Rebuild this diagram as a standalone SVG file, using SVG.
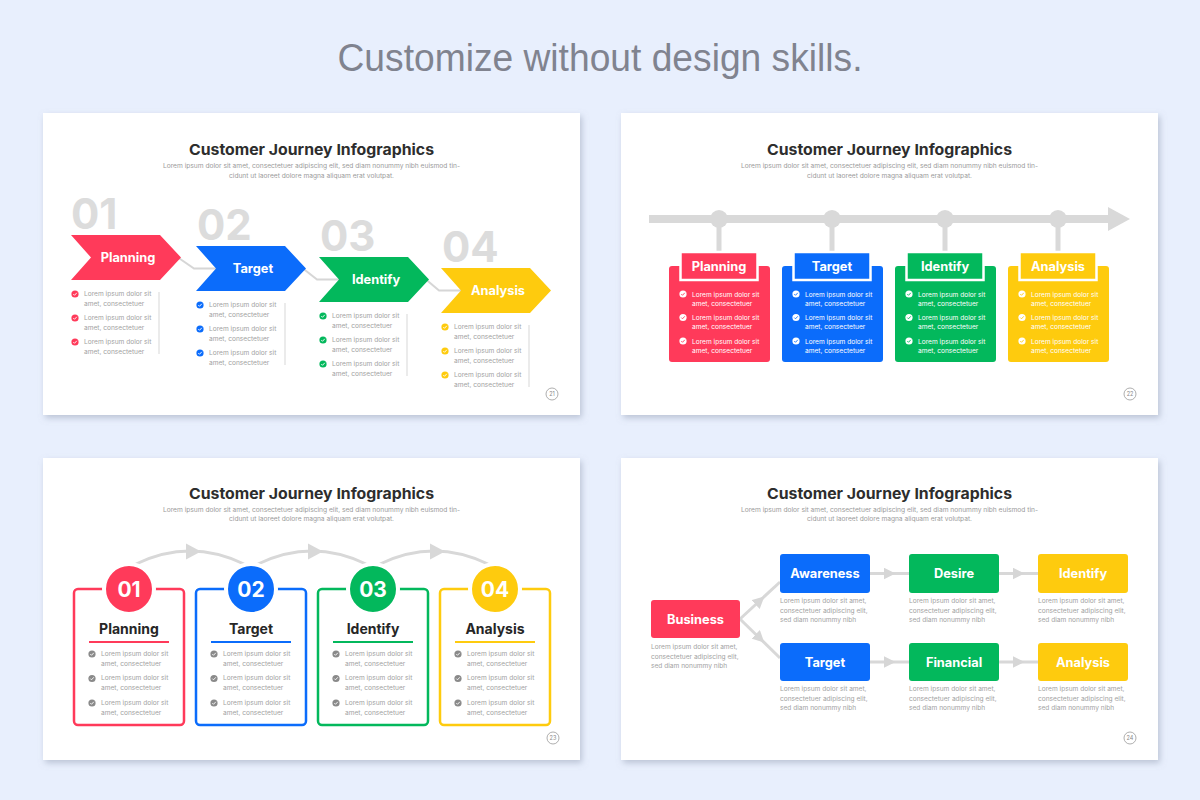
<svg xmlns="http://www.w3.org/2000/svg" xmlns:xlink="http://www.w3.org/1999/xlink" width="1200" height="800" viewBox="0 0 1200 800">
<defs>
<style>
text{font-family:Inter,"Open Sans","DejaVu Sans",sans-serif}
.main{font-family:"Liberation Sans",Arial,sans-serif;font-size:38px;fill:#80838f}
.t1{font-size:15px;font-weight:700;fill:#2d2d2d;text-anchor:middle}
.sub{font-size:6.3px;fill:#9a9a9a;text-anchor:middle}
.li{font-size:6.6px;fill:#a2a2a2}
.liw{font-size:6.6px;fill:#ffffff}
.big{font-size:42px;font-weight:700;fill:#dcdcdc}
.lab{font-size:12.8px;font-weight:700;fill:#ffffff;text-anchor:middle}
.dl{font-size:14px;font-weight:700;fill:#262626;text-anchor:middle}
.cn{font-size:21px;font-weight:700;fill:#ffffff;text-anchor:middle}
.pg{font-size:5.5px;fill:#888;text-anchor:middle}
.pgc{fill:none;stroke:#999;stroke-width:0.8}
.slide{fill:#ffffff;filter:url(#sh)}
.con{fill:none;stroke:#d6d6d6;stroke-width:2}
.con3{fill:none;stroke:#d8d8d8;stroke-width:3}
.vl{stroke:#dedede;stroke-width:1.2}
</style>
<filter id="sh" x="-5%" y="-5%" width="110%" height="115%">
<feDropShadow dx="2" dy="3" stdDeviation="3" flood-color="#8f98ad" flood-opacity="0.5"/>
</filter>
<g id="chk"><circle r="3.6"/><path d="M-1.7,0.1 L-0.5,1.3 L1.8,-1.2" fill="none" stroke="#fff" stroke-width="0.9"/></g>
<g id="chkw"><circle r="3.6" fill="#fff"/><path d="M-1.7,0.1 L-0.5,1.3 L1.8,-1.2" fill="none" stroke="currentColor" stroke-width="0.9"/></g>
<marker id="ah" viewBox="0 0 10 10" refX="5" refY="5" markerWidth="12" markerHeight="12" markerUnits="userSpaceOnUse" orient="auto"><path d="M0,0 L10,5 L0,10 z" fill="#d6d6d6"/></marker>
</defs>

<rect width="1200" height="800" fill="#e8effd"/>
<text class="main" x="600" y="71" text-anchor="middle" textLength="525" lengthAdjust="spacingAndGlyphs">Customize without design skills.</text>

<!-- Slide 1 -->
<g id="slide1">
<rect class="slide" x="43" y="113" width="537" height="302"/>
<text class="t1" x="311.5" y="155" textLength="245" lengthAdjust="spacingAndGlyphs">Customer Journey Infographics</text>
<text class="sub" x="311.5" y="168" textLength="297" lengthAdjust="spacingAndGlyphs">Lorem ipsum dolor sit amet, consectetuer adipiscing elit, sed diam nonummy nibh euismod tin-</text>
<text class="sub" x="311.5" y="177.5" textLength="165" lengthAdjust="spacingAndGlyphs">cidunt ut laoreet dolore magna aliquam erat volutpat.</text>
<g id="s1-connectors">
<polyline class="con" points="178,257.5 194,268.5 218,268.5"/>
<polyline class="con" points="303,268.5 317,279.5 341,279.5"/>
<polyline class="con" points="426,279.5 439,290.5 463,290.5"/>
</g>
<g id="s1-planning">
<text class="big" x="71" y="229">01</text>
<path d="M71,235 h89 l21,22.5 l-21,22.5 h-89 l20,-22.5 z" fill="#ff3a5a"/>
<text class="lab" x="128" y="262">Planning</text>
<use href="#chk" x="75" y="294" fill="#ff3a5a"/><text class="li" x="84" y="296"><tspan>Lorem ipsum dolor sit</tspan><tspan x="84" dy="10">amet, consectetuer</tspan></text>
<use href="#chk" x="75" y="318" fill="#ff3a5a"/><text class="li" x="84" y="320"><tspan>Lorem ipsum dolor sit</tspan><tspan x="84" dy="10">amet, consectetuer</tspan></text>
<use href="#chk" x="75" y="342" fill="#ff3a5a"/><text class="li" x="84" y="344"><tspan>Lorem ipsum dolor sit</tspan><tspan x="84" dy="10">amet, consectetuer</tspan></text>
<line class="vl" x1="159" y1="292" x2="159" y2="354"/>
</g>
<g id="s1-target">
<text class="big" x="197" y="240">02</text>
<path d="M196,246 h89 l21,22.5 l-21,22.5 h-89 l20,-22.5 z" fill="#0b6cfb"/>
<text class="lab" x="253" y="273">Target</text>
<use href="#chk" x="200" y="305" fill="#0b6cfb"/><text class="li" x="209" y="307"><tspan>Lorem ipsum dolor sit</tspan><tspan x="209" dy="10">amet, consectetuer</tspan></text>
<use href="#chk" x="200" y="329" fill="#0b6cfb"/><text class="li" x="209" y="331"><tspan>Lorem ipsum dolor sit</tspan><tspan x="209" dy="10">amet, consectetuer</tspan></text>
<use href="#chk" x="200" y="353" fill="#0b6cfb"/><text class="li" x="209" y="355"><tspan>Lorem ipsum dolor sit</tspan><tspan x="209" dy="10">amet, consectetuer</tspan></text>
<line class="vl" x1="285" y1="303" x2="285" y2="365"/>
</g>
<g id="s1-identify">
<text class="big" x="320" y="251">03</text>
<path d="M319,257 h89 l21,22.5 l-21,22.5 h-89 l20,-22.5 z" fill="#03b85c"/>
<text class="lab" x="376" y="284">Identify</text>
<use href="#chk" x="323" y="316" fill="#03b85c"/><text class="li" x="332" y="318"><tspan>Lorem ipsum dolor sit</tspan><tspan x="332" dy="10">amet, consectetuer</tspan></text>
<use href="#chk" x="323" y="340" fill="#03b85c"/><text class="li" x="332" y="342"><tspan>Lorem ipsum dolor sit</tspan><tspan x="332" dy="10">amet, consectetuer</tspan></text>
<use href="#chk" x="323" y="364" fill="#03b85c"/><text class="li" x="332" y="366"><tspan>Lorem ipsum dolor sit</tspan><tspan x="332" dy="10">amet, consectetuer</tspan></text>
<line class="vl" x1="407" y1="314" x2="407" y2="376"/>
</g>
<g id="s1-analysis">
<text class="big" x="442" y="262">04</text>
<path d="M441,268 h89 l21,22.5 l-21,22.5 h-89 l20,-22.5 z" fill="#fecb0e"/>
<text class="lab" x="498" y="295">Analysis</text>
<use href="#chk" x="445" y="327" fill="#fecb0e"/><text class="li" x="454" y="329"><tspan>Lorem ipsum dolor sit</tspan><tspan x="454" dy="10">amet, consectetuer</tspan></text>
<use href="#chk" x="445" y="351" fill="#fecb0e"/><text class="li" x="454" y="353"><tspan>Lorem ipsum dolor sit</tspan><tspan x="454" dy="10">amet, consectetuer</tspan></text>
<use href="#chk" x="445" y="375" fill="#fecb0e"/><text class="li" x="454" y="377"><tspan>Lorem ipsum dolor sit</tspan><tspan x="454" dy="10">amet, consectetuer</tspan></text>
<line class="vl" x1="529" y1="325" x2="529" y2="387"/>
</g>
<circle class="pgc" cx="552" cy="394" r="6"/><text class="pg" x="552" y="396">21</text>
</g>

<!-- Slide 2 -->
<g id="slide2">
<rect class="slide" x="621" y="113" width="537" height="302"/>
<text class="t1" x="889.5" y="155" textLength="245" lengthAdjust="spacingAndGlyphs">Customer Journey Infographics</text>
<text class="sub" x="889.5" y="168" textLength="297" lengthAdjust="spacingAndGlyphs">Lorem ipsum dolor sit amet, consectetuer adipiscing elit, sed diam nonummy nibh euismod tin-</text>
<text class="sub" x="889.5" y="177.5" textLength="165" lengthAdjust="spacingAndGlyphs">cidunt ut laoreet dolore magna aliquam erat volutpat.</text>
<g id="s2-connectors" fill="#d9d9d9">
<rect x="649" y="215" width="462" height="8"/>
<polygon points="1108,207 1130,219 1108,231"/>
<circle cx="719" cy="219" r="9"/><circle cx="832" cy="219" r="9"/><circle cx="945" cy="219" r="9"/><circle cx="1058" cy="219" r="9"/>
<rect x="716.5" y="219" width="5" height="36"/><rect x="829.5" y="219" width="5" height="36"/><rect x="942.5" y="219" width="5" height="36"/><rect x="1055.5" y="219" width="5" height="36"/>
</g>
<g id="s2-planning">
<rect x="669" y="266" width="101" height="96" rx="3" fill="#ff3a5a"/>
<rect x="680.5" y="252" width="77" height="28" fill="#ff3a5a" stroke="#fff" stroke-width="2.5"/>
<text class="lab" x="719" y="271">Planning</text>
<use href="#chkw" x="683" y="294" color="#ff3a5a"/><text class="liw" x="692" y="296.5"><tspan>Lorem ipsum dolor sit</tspan><tspan x="692" dy="9.3">amet, consectetuer</tspan></text>
<use href="#chkw" x="683" y="317.5" color="#ff3a5a"/><text class="liw" x="692" y="320"><tspan>Lorem ipsum dolor sit</tspan><tspan x="692" dy="9.3">amet, consectetuer</tspan></text>
<use href="#chkw" x="683" y="341" color="#ff3a5a"/><text class="liw" x="692" y="343.5"><tspan>Lorem ipsum dolor sit</tspan><tspan x="692" dy="9.3">amet, consectetuer</tspan></text>
</g>
<g id="s2-target">
<rect x="782" y="266" width="101" height="96" rx="3" fill="#0b6cfb"/>
<rect x="793.5" y="252" width="77" height="28" fill="#0b6cfb" stroke="#fff" stroke-width="2.5"/>
<text class="lab" x="832" y="271">Target</text>
<use href="#chkw" x="796" y="294" color="#0b6cfb"/><text class="liw" x="805" y="296.5"><tspan>Lorem ipsum dolor sit</tspan><tspan x="805" dy="9.3">amet, consectetuer</tspan></text>
<use href="#chkw" x="796" y="317.5" color="#0b6cfb"/><text class="liw" x="805" y="320"><tspan>Lorem ipsum dolor sit</tspan><tspan x="805" dy="9.3">amet, consectetuer</tspan></text>
<use href="#chkw" x="796" y="341" color="#0b6cfb"/><text class="liw" x="805" y="343.5"><tspan>Lorem ipsum dolor sit</tspan><tspan x="805" dy="9.3">amet, consectetuer</tspan></text>
</g>
<g id="s2-identify">
<rect x="895" y="266" width="101" height="96" rx="3" fill="#03b85c"/>
<rect x="906.5" y="252" width="77" height="28" fill="#03b85c" stroke="#fff" stroke-width="2.5"/>
<text class="lab" x="945" y="271">Identify</text>
<use href="#chkw" x="909" y="294" color="#03b85c"/><text class="liw" x="918" y="296.5"><tspan>Lorem ipsum dolor sit</tspan><tspan x="918" dy="9.3">amet, consectetuer</tspan></text>
<use href="#chkw" x="909" y="317.5" color="#03b85c"/><text class="liw" x="918" y="320"><tspan>Lorem ipsum dolor sit</tspan><tspan x="918" dy="9.3">amet, consectetuer</tspan></text>
<use href="#chkw" x="909" y="341" color="#03b85c"/><text class="liw" x="918" y="343.5"><tspan>Lorem ipsum dolor sit</tspan><tspan x="918" dy="9.3">amet, consectetuer</tspan></text>
</g>
<g id="s2-analysis">
<rect x="1008" y="266" width="101" height="96" rx="3" fill="#fecb0e"/>
<rect x="1019.5" y="252" width="77" height="28" fill="#fecb0e" stroke="#fff" stroke-width="2.5"/>
<text class="lab" x="1058" y="271">Analysis</text>
<use href="#chkw" x="1022" y="294" color="#fecb0e"/><text class="liw" x="1031" y="296.5"><tspan>Lorem ipsum dolor sit</tspan><tspan x="1031" dy="9.3">amet, consectetuer</tspan></text>
<use href="#chkw" x="1022" y="317.5" color="#fecb0e"/><text class="liw" x="1031" y="320"><tspan>Lorem ipsum dolor sit</tspan><tspan x="1031" dy="9.3">amet, consectetuer</tspan></text>
<use href="#chkw" x="1022" y="341" color="#fecb0e"/><text class="liw" x="1031" y="343.5"><tspan>Lorem ipsum dolor sit</tspan><tspan x="1031" dy="9.3">amet, consectetuer</tspan></text>
</g>
<circle class="pgc" cx="1130" cy="394" r="6"/><text class="pg" x="1130" y="396">22</text>
</g>

<!-- Slide 3 -->
<g id="slide3">
<rect class="slide" x="43" y="458" width="537" height="302"/>
<text class="t1" x="311.5" y="499" textLength="245" lengthAdjust="spacingAndGlyphs">Customer Journey Infographics</text>
<text class="sub" x="311.5" y="511.5" textLength="297" lengthAdjust="spacingAndGlyphs">Lorem ipsum dolor sit amet, consectetuer adipiscing elit, sed diam nonummy nibh euismod tin-</text>
<text class="sub" x="311.5" y="521" textLength="165" lengthAdjust="spacingAndGlyphs">cidunt ut laoreet dolore magna aliquam erat volutpat.</text>
<g id="s3-connectors">
<path class="con3" d="M136,564 Q190,538 244,564"/><polygon points="186,543.5 201,551.5 186,559.5" fill="#d8d8d8"/>
<path class="con3" d="M258,564 Q312,538 366,564"/><polygon points="308,543.5 323,551.5 308,559.5" fill="#d8d8d8"/>
<path class="con3" d="M380,564 Q434,538 488,564"/><polygon points="430,543.5 445,551.5 430,559.5" fill="#d8d8d8"/>
</g>
<g id="s3-planning">
<rect x="74" y="589" width="110" height="136" rx="4" fill="#fff" stroke="#ff3a5a" stroke-width="2.5"/>
<circle cx="129" cy="589" r="25" fill="#ff3a5a" stroke="#fff" stroke-width="4"/>
<text class="cn" x="129" y="597">01</text>
<text class="dl" x="129" y="634">Planning</text>
<line x1="89" y1="642" x2="169" y2="642" stroke="#ff3a5a" stroke-width="2"/>
<use href="#chk" x="92" y="654" fill="#8a8a8a"/><text class="li" x="101" y="655.5"><tspan>Lorem ipsum dolor sit</tspan><tspan x="101" dy="10">amet, consectetuer</tspan></text>
<use href="#chk" x="92" y="678.5" fill="#8a8a8a"/><text class="li" x="101" y="680"><tspan>Lorem ipsum dolor sit</tspan><tspan x="101" dy="10">amet, consectetuer</tspan></text>
<use href="#chk" x="92" y="703" fill="#8a8a8a"/><text class="li" x="101" y="704.5"><tspan>Lorem ipsum dolor sit</tspan><tspan x="101" dy="10">amet, consectetuer</tspan></text>
</g>
<g id="s3-target">
<rect x="196" y="589" width="110" height="136" rx="4" fill="#fff" stroke="#0b6cfb" stroke-width="2.5"/>
<circle cx="251" cy="589" r="25" fill="#0b6cfb" stroke="#fff" stroke-width="4"/>
<text class="cn" x="251" y="597">02</text>
<text class="dl" x="251" y="634">Target</text>
<line x1="211" y1="642" x2="291" y2="642" stroke="#0b6cfb" stroke-width="2"/>
<use href="#chk" x="214" y="654" fill="#8a8a8a"/><text class="li" x="223" y="655.5"><tspan>Lorem ipsum dolor sit</tspan><tspan x="223" dy="10">amet, consectetuer</tspan></text>
<use href="#chk" x="214" y="678.5" fill="#8a8a8a"/><text class="li" x="223" y="680"><tspan>Lorem ipsum dolor sit</tspan><tspan x="223" dy="10">amet, consectetuer</tspan></text>
<use href="#chk" x="214" y="703" fill="#8a8a8a"/><text class="li" x="223" y="704.5"><tspan>Lorem ipsum dolor sit</tspan><tspan x="223" dy="10">amet, consectetuer</tspan></text>
</g>
<g id="s3-identify">
<rect x="318" y="589" width="110" height="136" rx="4" fill="#fff" stroke="#03b85c" stroke-width="2.5"/>
<circle cx="373" cy="589" r="25" fill="#03b85c" stroke="#fff" stroke-width="4"/>
<text class="cn" x="373" y="597">03</text>
<text class="dl" x="373" y="634">Identify</text>
<line x1="333" y1="642" x2="413" y2="642" stroke="#03b85c" stroke-width="2"/>
<use href="#chk" x="336" y="654" fill="#8a8a8a"/><text class="li" x="345" y="655.5"><tspan>Lorem ipsum dolor sit</tspan><tspan x="345" dy="10">amet, consectetuer</tspan></text>
<use href="#chk" x="336" y="678.5" fill="#8a8a8a"/><text class="li" x="345" y="680"><tspan>Lorem ipsum dolor sit</tspan><tspan x="345" dy="10">amet, consectetuer</tspan></text>
<use href="#chk" x="336" y="703" fill="#8a8a8a"/><text class="li" x="345" y="704.5"><tspan>Lorem ipsum dolor sit</tspan><tspan x="345" dy="10">amet, consectetuer</tspan></text>
</g>
<g id="s3-analysis">
<rect x="440" y="589" width="110" height="136" rx="4" fill="#fff" stroke="#fecb0e" stroke-width="2.5"/>
<circle cx="495" cy="589" r="25" fill="#fecb0e" stroke="#fff" stroke-width="4"/>
<text class="cn" x="495" y="597">04</text>
<text class="dl" x="495" y="634">Analysis</text>
<line x1="455" y1="642" x2="535" y2="642" stroke="#fecb0e" stroke-width="2"/>
<use href="#chk" x="458" y="654" fill="#8a8a8a"/><text class="li" x="467" y="655.5"><tspan>Lorem ipsum dolor sit</tspan><tspan x="467" dy="10">amet, consectetuer</tspan></text>
<use href="#chk" x="458" y="678.5" fill="#8a8a8a"/><text class="li" x="467" y="680"><tspan>Lorem ipsum dolor sit</tspan><tspan x="467" dy="10">amet, consectetuer</tspan></text>
<use href="#chk" x="458" y="703" fill="#8a8a8a"/><text class="li" x="467" y="704.5"><tspan>Lorem ipsum dolor sit</tspan><tspan x="467" dy="10">amet, consectetuer</tspan></text>
</g>
<circle class="pgc" cx="553" cy="738" r="6"/><text class="pg" x="553" y="740">23</text>
</g>

<!-- Slide 4 -->
<g id="slide4">
<rect class="slide" x="621" y="458" width="537" height="302"/>
<text class="t1" x="889.5" y="499" textLength="245" lengthAdjust="spacingAndGlyphs">Customer Journey Infographics</text>
<text class="sub" x="889.5" y="511.5" textLength="297" lengthAdjust="spacingAndGlyphs">Lorem ipsum dolor sit amet, consectetuer adipiscing elit, sed diam nonummy nibh euismod tin-</text>
<text class="sub" x="889.5" y="521" textLength="165" lengthAdjust="spacingAndGlyphs">cidunt ut laoreet dolore magna aliquam erat volutpat.</text>
<g id="s4-connectors">
<polyline class="con3" points="740,619 760,600.5 780,582" marker-mid="url(#ah)"/>
<polyline class="con3" points="740,619 760,638.5 780,658" marker-mid="url(#ah)"/>
<polyline class="con3" points="870,573.5 889.5,573.5 909,573.5" marker-mid="url(#ah)"/>
<polyline class="con3" points="999,573.5 1018.5,573.5 1038,573.5" marker-mid="url(#ah)"/>
<polyline class="con3" points="870,662 889.5,662 909,662" marker-mid="url(#ah)"/>
<polyline class="con3" points="999,662 1018.5,662 1038,662" marker-mid="url(#ah)"/>
</g>
<g id="s4-business">
<rect x="651" y="600" width="89" height="38" rx="3" fill="#ff3a5a"/>
<text class="lab" x="695.5" y="623.5">Business</text>
<text class="li" x="651" y="649"><tspan>Lorem ipsum dolor sit amet,</tspan><tspan x="651" dy="9.6">consectetuer adipiscing elit,</tspan><tspan x="651" dy="9.6">sed diam nonummy nibh</tspan></text>
</g>
<g id="s4-awareness">
<rect x="780" y="554" width="90" height="39" rx="3" fill="#0b6cfb"/>
<text class="lab" x="825" y="578">Awareness</text>
<text class="li" x="780" y="603"><tspan>Lorem ipsum dolor sit amet,</tspan><tspan x="780" dy="9.6">consectetuer adipiscing elit,</tspan><tspan x="780" dy="9.6">sed diam nonummy nibh</tspan></text>
</g>
<g id="s4-desire">
<rect x="909" y="554" width="90" height="39" rx="3" fill="#03b85c"/>
<text class="lab" x="954" y="578">Desire</text>
<text class="li" x="909" y="603"><tspan>Lorem ipsum dolor sit amet,</tspan><tspan x="909" dy="9.6">consectetuer adipiscing elit,</tspan><tspan x="909" dy="9.6">sed diam nonummy nibh</tspan></text>
</g>
<g id="s4-identify">
<rect x="1038" y="554" width="90" height="39" rx="3" fill="#fecb0e"/>
<text class="lab" x="1083" y="578">Identify</text>
<text class="li" x="1038" y="603"><tspan>Lorem ipsum dolor sit amet,</tspan><tspan x="1038" dy="9.6">consectetuer adipiscing elit,</tspan><tspan x="1038" dy="9.6">sed diam nonummy nibh</tspan></text>
</g>
<g id="s4-target">
<rect x="780" y="643" width="90" height="38" rx="3" fill="#0b6cfb"/>
<text class="lab" x="825" y="666.5">Target</text>
<text class="li" x="780" y="691"><tspan>Lorem ipsum dolor sit amet,</tspan><tspan x="780" dy="9.6">consectetuer adipiscing elit,</tspan><tspan x="780" dy="9.6">sed diam nonummy nibh</tspan></text>
</g>
<g id="s4-financial">
<rect x="909" y="643" width="90" height="38" rx="3" fill="#03b85c"/>
<text class="lab" x="954" y="666.5">Financial</text>
<text class="li" x="909" y="691"><tspan>Lorem ipsum dolor sit amet,</tspan><tspan x="909" dy="9.6">consectetuer adipiscing elit,</tspan><tspan x="909" dy="9.6">sed diam nonummy nibh</tspan></text>
</g>
<g id="s4-analysis">
<rect x="1038" y="643" width="90" height="38" rx="3" fill="#fecb0e"/>
<text class="lab" x="1083" y="666.5">Analysis</text>
<text class="li" x="1038" y="691"><tspan>Lorem ipsum dolor sit amet,</tspan><tspan x="1038" dy="9.6">consectetuer adipiscing elit,</tspan><tspan x="1038" dy="9.6">sed diam nonummy nibh</tspan></text>
</g>
<circle class="pgc" cx="1130" cy="738" r="6"/><text class="pg" x="1130" y="740">24</text>
</g>
</svg>
